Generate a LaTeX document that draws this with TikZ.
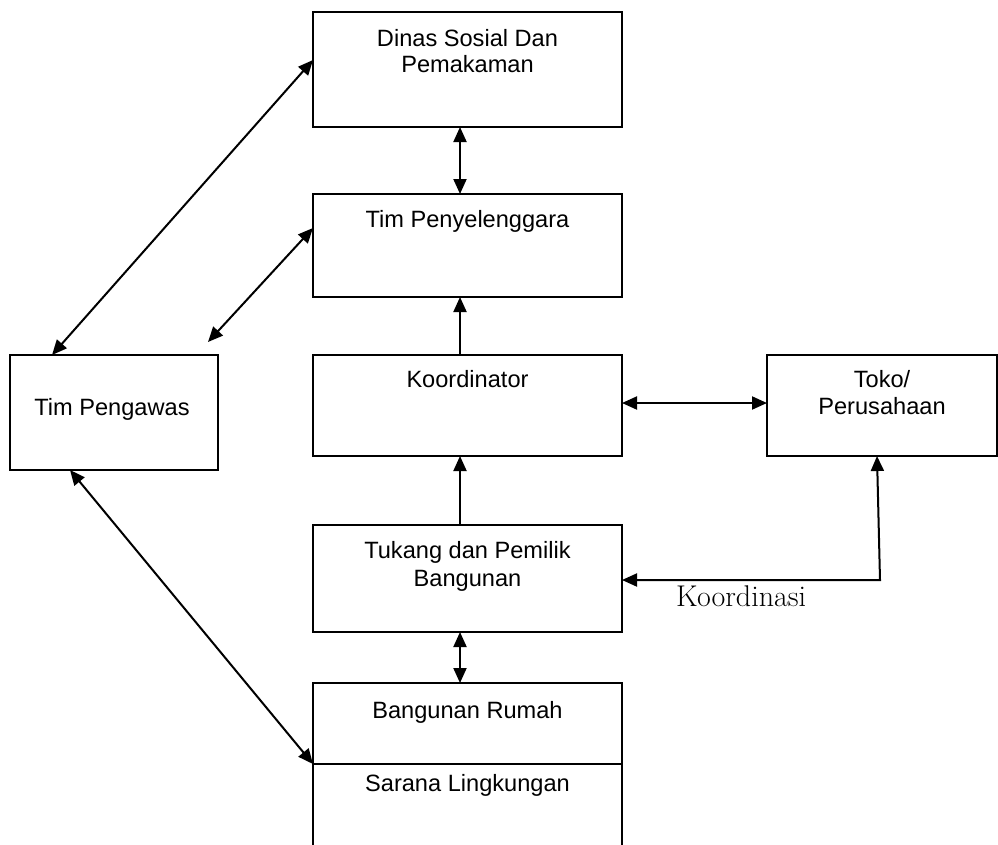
\documentclass[tikz,border=0pt]{standalone}
\usepackage{fontspec}
\newfontfamily\arialfont{Liberation Sans}
\usetikzlibrary{arrows.meta,calc}
\begin{document}
\begin{tikzpicture}[x=1pt,y=-1pt,
  box/.style={draw,line width=2.5pt,rectangle,outer sep=0pt,inner sep=0pt,minimum width=309pt},
  boxline/.style={line width=2.5pt},
  lbl/.style={anchor=base,inner sep=0pt,font=\arialfont\fontsize{23.6}{27.5}\selectfont},
  arr/.style={line width=2pt,-{Triangle[length=15pt,width=13pt]}},
  darr/.style={line width=2pt,{Triangle[length=15pt,width=13pt]}-{Triangle[length=15pt,width=13pt]}}]
\useasboundingbox (0,0) rectangle (998,844);
% boxes
\node[box,minimum height=115pt] (dinas) at (467.5,69.5) {};
\node[box,minimum height=103pt] (peny) at (467.5,245.5) {};
\node[box,minimum height=101pt] (koord) at (467.5,405.5) {};
\node[box,minimum height=101pt,minimum width=230pt] (toko) at (882,405.5) {};
\node[box,minimum height=115pt,minimum width=208pt] (peng) at (114,412.5) {};
\node[box,minimum height=107pt] (tuk) at (467.5,578.5) {};
\node[box,minimum height=164pt] (bang) at (467.5,765) {};
\draw[boxline] ($(bang.north west)+(0,81)$) -- ($(bang.north east)+(0,81)$);
% labels
\node[lbl] (t1a) at (467.5,46) {Dinas Sosial Dan};
\node[lbl] (t1b) at (467.5,72) {Pemakaman};
\node[lbl] (t2) at (467.5,227) {Tim Penyelenggara};
\node[lbl] (t3) at (467.5,387) {Koordinator};
\node[lbl] (t4a) at (882,387) {Toko/};
\node[lbl] (t4b) at (882,414) {Perusahaan};
\node[lbl] (t5) at (112,415) {Tim Pengawas};
\node[lbl] (t6a) at (467.5,558) {Tukang dan Pemilik};
\node[lbl] (t6b) at (467.5,586) {Bangunan};
\node[lbl] (t7a) at (467.5,718) {Bangunan Rumah};
\node[lbl] (t7b) at (467.5,791) {Sarana Lingkungan};
\node[anchor=base west,inner sep=0pt,font=\fontsize{30}{33}\selectfont] (koordinasi) at (676,606) {Koordinasi};
% connectors
\coordinate (free) at (208,342);
\coordinate (bend) at (880,580);
\draw[darr] ($(dinas.north west)+(0,48)$) -- ($(peng.north west)+(42,0)$);
\draw[darr] ($(peny.north west)+(0,34)$) -- (free);
\draw[darr] ($(peng.south west)+(60,0)$) -- ($(bang.north west)+(0,81)$);
\draw[darr] ($(dinas.south)+(-7.5,0)$) -- ($(peny.north)+(-7.5,0)$);
\draw[arr] ($(koord.north)+(-7.5,0)$) -- ($(peny.south)+(-7.5,0)$);
\draw[arr] ($(tuk.north)+(-7.5,0)$) -- ($(koord.south)+(-7.5,0)$);
\draw[darr] ($(tuk.south)+(-7.5,0)$) -- ($(bang.north)+(-7.5,0)$);
\draw[darr] ($(koord.east)+(0,-2.5)$) -- ($(toko.west)+(0,-2.5)$);
\draw[darr] ($(toko.south)+(-5,0)$) -- (bend) -- ($(tuk.east)+(0,1.5)$);
\end{tikzpicture}
\end{document}
